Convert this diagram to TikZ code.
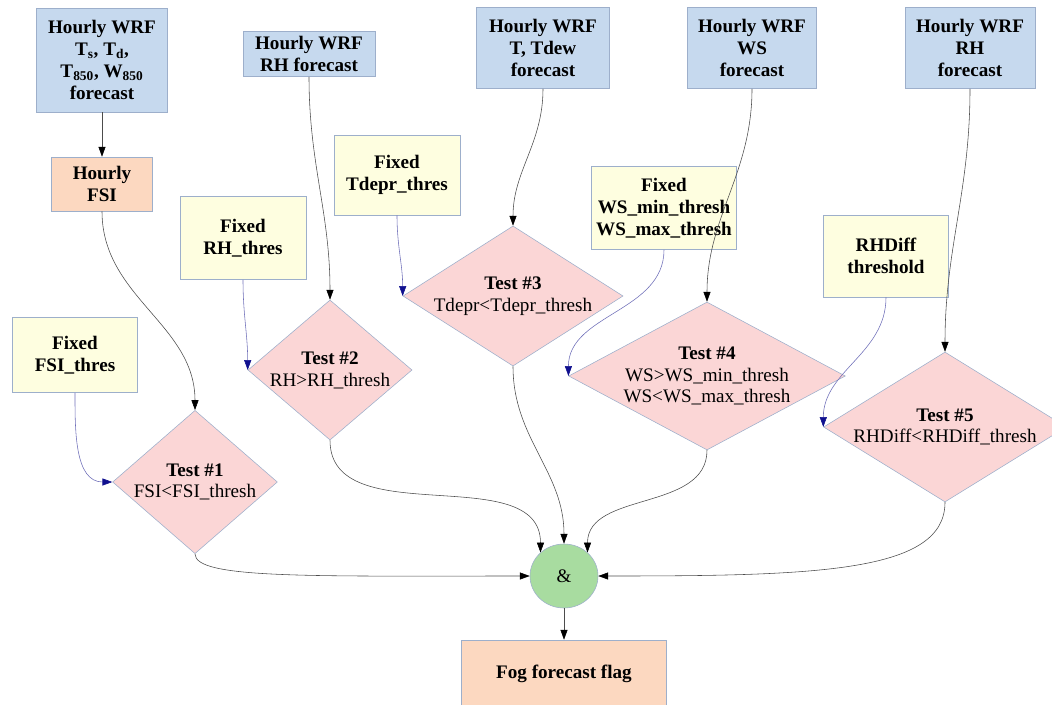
\documentclass[tikz,border=0pt]{standalone}
\usepackage{fontspec}
\setmainfont{Liberation Serif}
\usetikzlibrary{arrows.meta,shapes.geometric}

\definecolor{wrfblue}{HTML}{C6D9EE}
\definecolor{fixyellow}{HTML}{FEFEE0}
\definecolor{testpink}{HTML}{FBD6D6}
\definecolor{fsiorange}{HTML}{FCD8C0}
\definecolor{andgreen}{HTML}{A8DCA0}
\definecolor{rim}{HTML}{9DAFCB}
\definecolor{thrline}{HTML}{6E6EB8}
\definecolor{thrtip}{HTML}{10108F}

\tikzset{
  every node/.style={font=\fontsize{13.6}{15.5}\selectfont, align=center, inner sep=0pt},
  wrfbox/.style={draw=rim, fill=wrfblue, font=\fontsize{13.6}{15.5}\selectfont\bfseries},
  fixbox/.style={draw=rim, fill=fixyellow, font=\fontsize{13.6}{15.5}\selectfont\bfseries},
  fsibox/.style={draw=rim, fill=fsiorange, font=\fontsize{13.6}{15.5}\selectfont\bfseries},
  testdia/.style={diamond, draw=rim, fill=testpink, minimum height=3.5cm},
  andnode/.style={ellipse, draw=rim, fill=andgreen, minimum width=1.7cm, minimum height=1.6cm},
  feed/.style={draw=black!70, -{Triangle[length=7pt,width=5pt,color=black]}},
  thrfeed/.style={draw=thrline, -{Triangle[length=7pt,width=5pt,color=thrtip]}}
}

\begin{document}
\begin{tikzpicture}[x=0.025cm, y=-0.025cm]
  \useasboundingbox (0,0) rectangle (1052,704);

  \node[wrfbox, minimum width=3.275cm, minimum height=2.6cm] (wrfa) at (102,60)
    {Hourly WRF\\T\textsubscript{s}, T\textsubscript{d},\\T\textsubscript{850}, W\textsubscript{850}\\forecast};
  \node[wrfbox, minimum width=3.3cm, minimum height=1.125cm] (wrfb) at (309,54) {Hourly WRF\\RH forecast};
  \node[wrfbox, minimum width=3.325cm, minimum height=2.025cm] (wrfc) at (543,48) {Hourly WRF\\T, Tdew\\forecast};
  \node[wrfbox, minimum width=3.225cm, minimum height=2.025cm] (wrfd) at (752,48) {Hourly WRF\\WS\\forecast};
  \node[wrfbox, minimum width=3.25cm, minimum height=2.025cm] (wrfe) at (970,48) {Hourly WRF\\RH\\forecast};

  \node[fsibox, minimum width=2.525cm, minimum height=1.35cm] (fsi) at (102,184) {Hourly\\FSI};

  \node[fixbox, minimum width=3.125cm, minimum height=1.875cm] (thra) at (75,355) {Fixed\\FSI\_thres};
  \node[fixbox, minimum width=3.15cm, minimum height=2.075cm] (thrb) at (243,238) {Fixed\\RH\_thres};
  \node[fixbox, minimum width=3.15cm, minimum height=2.0cm] (thrc) at (397,175) {Fixed\\Tdepr\_thres};
  \node[fixbox, minimum width=3.625cm, minimum height=2.075cm] (thrd) at (664,208) {Fixed\\WS\_min\_thresh\\WS\_max\_thresh};
  \node[fixbox, minimum width=3.125cm, minimum height=2.05cm] (thre) at (886,256) {RHDiff\\threshold};

  \node[testdia, aspect=1.15, minimum width=4.025cm] (testa) at (195,482) {\textbf{Test \#1}\\FSI<FSI\_thresh};
  \node[testdia, aspect=1.17, minimum width=4.1cm] (testb) at (330,370) {\textbf{Test \#2}\\RH>RH\_thresh};
  \node[testdia, aspect=1.56, minimum width=5.5cm] (testc) at (513,296) {\textbf{Test \#3}\\Tdepr<Tdepr\_thresh};
  \node[testdia, aspect=1.87, minimum width=6.6cm] (testd) at (707,376) {\textbf{Test \#4}\\WS>WS\_min\_thresh\\WS<WS\_max\_thresh};
  \node[testdia, aspect=1.62, minimum width=5.625cm] (teste) at (945,427) {\textbf{Test \#5}\\RHDiff<RHDiff\_thresh};

  \node[andnode] (and) at (564,576) {\&};
  \node[fsibox, minimum width=5.125cm, minimum height=1.7cm] (flag) at (564,674) {Fog forecast flag};

  \draw[feed] (wrfa) -- (fsi);
  \draw[feed] (fsi.south) to[out=-90, in=90] (testa.north);
  \draw[feed] (wrfb.south) to[out=-90, in=90] (testb.north);
  \draw[feed] (wrfc.south) to[out=-90, in=90] (testc.north);
  \draw[feed] (wrfd.south) to[out=-90, in=90] (testd.north);
  \draw[feed] (wrfe.south) to[out=-90, in=90] (teste.north);

  \draw[thrfeed] (thra.south) to[out=-90, in=180] (testa.west);
  \draw[thrfeed] (thrb.south) to[out=-90, in=90] (testb.west);
  \draw[thrfeed] (thrc.south) to[out=-90, in=90] (testc.west);
  \draw[thrfeed] (thrd.south) to[out=-90, in=90] (testd.west);
  \draw[thrfeed] (thre.south) to[out=-90, in=90] (teste.west);

  \draw[feed] (testa.south) .. controls +(0,25) and +(-220,0) .. (and.west);
  \draw[feed] (testb.south) to[out=-90, in=90] (and.135);
  \draw[feed] (testc.south) to[out=-90, in=90] (and.north);
  \draw[feed] (testd.south) to[out=-90, in=90] (and.45);
  \draw[feed] (teste.south) .. controls +(0,70) and +(220,0) .. (and.east);
  \draw[feed] (and) -- (flag);
\end{tikzpicture}
\end{document}
